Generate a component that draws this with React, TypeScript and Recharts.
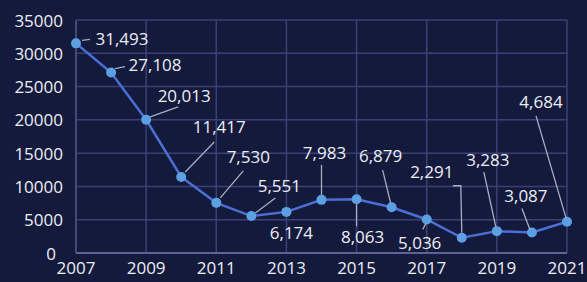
import React from "react";
import { LineChart, Line, XAxis, YAxis, CartesianGrid, LabelList } from "recharts";

const years = [2007, 2008, 2009, 2010, 2011, 2012, 2013, 2014, 2015, 2016, 2017, 2018, 2019, 2020, 2021];
const values = [31493, 27108, 20013, 11417, 7530, 5551, 6174, 7983, 8063, 6879, 5036, 2291, 3283, 3087, 4684];
const xTicks = [2007, 2009, 2011, 2013, 2015, 2017, 2019, 2021];
const yTicks = [0, 5000, 10000, 15000, 20000, 25000, 30000, 35000];

// label placement relative to each point: text centre (dx, dy), leader polyline points
const labelLayout: { dx: number; dy: number; leader: [number, number][] }[] = [
  { dx: 46, dy: -5, leader: [[6, -3], [14, -4]] },
  { dx: 44, dy: -8, leader: [[4, -4], [14, -6]] },
  { dx: 38, dy: -24, leader: [[4, -3], [32, -13]] },
  { dx: 38, dy: -50, leader: [[4, -5], [33, -35]] },
  { dx: 32, dy: -46, leader: [[4, -5], [27, -32]] },
  { dx: 28, dy: -31, leader: [[4, -3], [24, -18]] },
  { dx: 5, dy: 21, leader: [] },
  { dx: 3, dy: -47, leader: [[0, -5], [0, -35]] },
  { dx: 6, dy: 37, leader: [[0, 5], [0, 27]] },
  { dx: -11, dy: -52, leader: [[-1, -4], [-9, -37]] },
  { dx: -7, dy: 23, leader: [[-1, 4], [-4, 10]] },
  { dx: -30, dy: -66, leader: [[0, -5], [-1, -52], [-9, -52]] },
  { dx: -9, dy: -72, leader: [[-1, -4], [-13, -59]] },
  { dx: -6, dy: -37, leader: [[-2, -3], [-10, -24]] },
  { dx: -26, dy: -120, leader: [[-1, -4], [-31, -106]] },
];

const data = years.map((y, i) => ({ year: y, value: values[i] }));

const FONT = "'Open Sans', 'Noto Sans', sans-serif";
const TEXT = "#eceef6";

const fmt = (v: number) => v.toLocaleString("en-US");

const CustomLabel = (props: any) => {
  const { x, y, value, index } = props;
  const l = labelLayout[index];
  if (!l) return null;
  const pts = l.leader.map(([a, b]) => `${x + a},${y + b}`).join(" ");
  return (
    <g>
      {l.leader.length > 0 && (
        <polyline points={pts} fill="none" stroke="#a9adc4" strokeWidth={1.3} />
      )}
      <text
        x={x + l.dx}
        y={y + l.dy}
        textAnchor="middle"
        dominantBaseline="central"
        fill={TEXT}
        fontSize={17}
        fontFamily={FONT}
      >
        {fmt(value)}
      </text>
    </g>
  );
};

const YTick = (props: any) => {
  const { x, y, payload } = props;
  const shift = payload.value === 0 ? -7 : 0;
  return (
    <text
      x={x + shift}
      y={y}
      textAnchor="end"
      dominantBaseline="central"
      fill={TEXT}
      fontSize={17}
      fontFamily={FONT}
    >
      {payload.value}
    </text>
  );
};

export default function App() {
  return (
    <div style={{ position: "absolute", left: 0, top: 0, width: 587, height: 282, background: "#141a3c" }}>
      <LineChart width={587} height={282} data={data} margin={{ top: 20, right: 20, left: 0, bottom: 0 }}>
        <CartesianGrid stroke="#3b4175" strokeWidth={1.5} horizontal vertical />
        <XAxis
          dataKey="year"
          type="number"
          domain={[2007, 2021]}
          ticks={xTicks}
          height={29}
          tickLine={false}
          tickSize={0}
          tickMargin={9}
          axisLine={{ stroke: "#5d6396", strokeWidth: 2 }}
          tick={{ fill: TEXT, fontSize: 17, fontFamily: FONT }}
          interval={0}
        />
        <YAxis
          type="number"
          domain={[0, 35000]}
          ticks={yTicks}
          width={76}
          tickLine={false}
          tickSize={0}
          tickMargin={13}
          axisLine={{ stroke: "#4a5085", strokeWidth: 1.5 }}
          tick={<YTick />}
          interval={0}
        />
        <Line
          dataKey="value"
          stroke="#4b6fd3"
          strokeWidth={2.5}
          dot={{ r: 5, fill: "#5c9fe3", stroke: "#5c9fe3", strokeWidth: 0 }}
          isAnimationActive={false}
        >
          <LabelList dataKey="value" content={<CustomLabel />} />
        </Line>
      </LineChart>
    </div>
  );
}
